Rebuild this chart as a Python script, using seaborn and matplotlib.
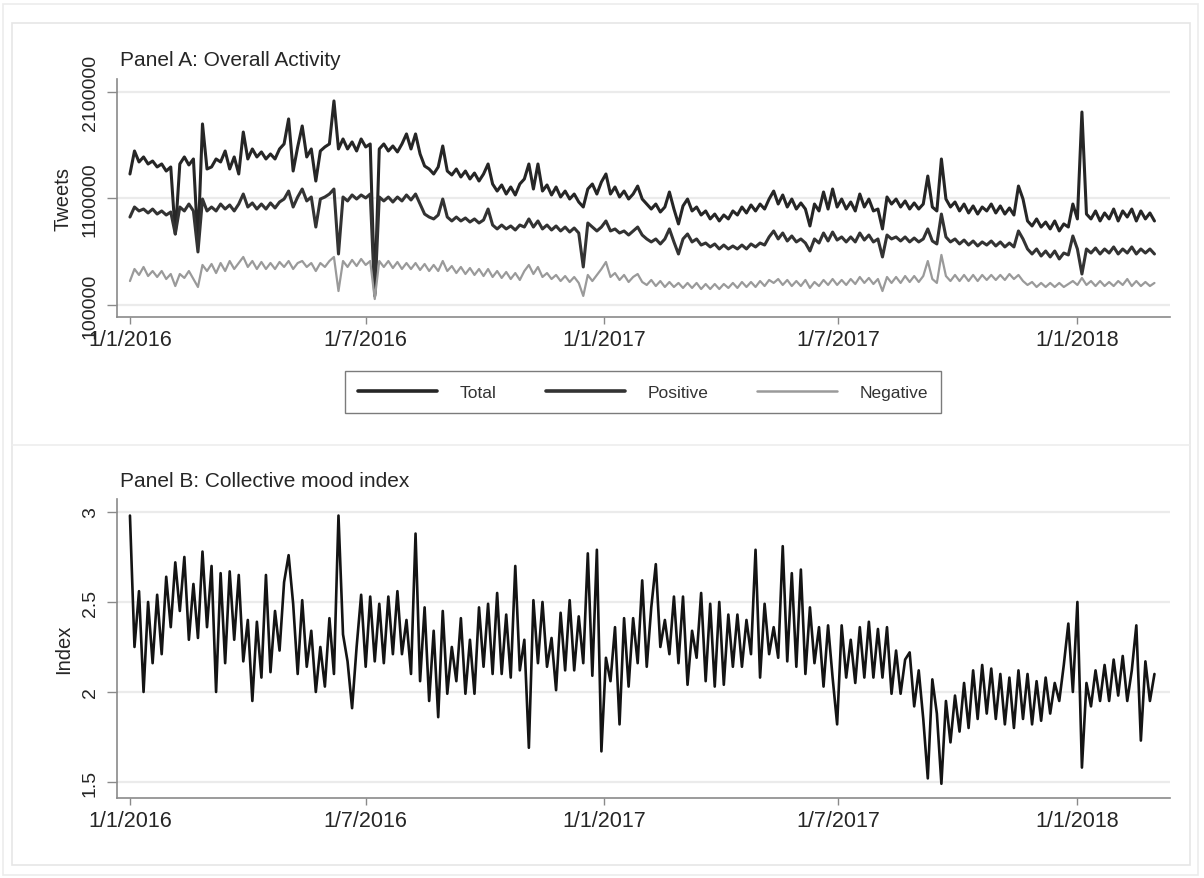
import numpy as np
import pandas as pd
import matplotlib
matplotlib.use("Agg")
import matplotlib.pyplot as plt
import matplotlib.dates as mdates
from matplotlib.patches import Rectangle
from matplotlib.lines import Line2D
import seaborn as sns

# ---------------- data (half-weekly readings, thousands of tweets) ----------------
series_names = ["Total", "Positive", "Negative"]

total_k = [
    1330, 1546, 1443, 1490, 1424, 1452, 1396, 1424, 1358, 1396,
    767, 1424, 1490, 1415, 1471, 673, 1800, 1377, 1396, 1471,
    1443, 1546, 1377, 1490, 1330, 1724, 1471, 1565, 1490, 1537,
    1471, 1518, 1471, 1565, 1612, 1847, 1358, 1584, 1781, 1490,
    1565, 1264, 1546, 1584, 1612, 2016, 1565, 1659, 1565, 1631,
    1546, 1659, 1584, 1612, 203, 1565, 1612, 1546, 1593, 1537,
    1612, 1706, 1565, 1706, 1518, 1405, 1377, 1330, 1396, 1593,
    1358, 1321, 1377, 1302, 1358, 1283, 1339, 1264, 1330, 1424,
    1236, 1170, 1227, 1142, 1208, 1133, 1236, 1283, 1424, 1189,
    1424, 1170, 1227, 1133, 1208, 1114, 1170, 1095, 1142, 1067,
    1020, 1189, 1236, 1142, 1255, 1330, 1142, 1208, 1114, 1170,
    1095, 1142, 1217, 1095, 1048, 1001, 1048, 973, 1020, 1161,
    1001, 861, 1030, 1095, 983, 1020, 945, 983, 908, 954,
    889, 945, 908, 983, 945, 1020, 964, 1039, 983, 1048,
    1001, 1095, 1170, 1048, 1133, 1020, 1095, 1001, 1058, 1001,
    842, 1048, 983, 1161, 1001, 1189, 1020, 1095, 1001, 1067,
    983, 1142, 1020, 1095, 983, 1001, 814, 1114, 1048, 1095,
    1020, 1077, 1001, 1058, 1001, 1048, 1311, 1020, 983, 1471,
    1095, 1020, 1067, 983, 1048, 964, 1030, 954, 1020, 983,
    1048, 964, 1030, 954, 1011, 945, 1217, 1095, 889, 842,
    908, 832, 879, 814, 889, 795, 861, 832, 1048, 908,
    1912, 954, 908, 983, 889, 964, 908, 1001, 889, 983,
    926, 1001, 889, 983, 908, 964, 889,
]

positive_k = [
    926, 1020, 983, 1001, 964, 1001, 954, 983, 945, 973,
    767, 1020, 983, 1048, 983, 598, 1095, 983, 1020, 983,
    1048, 1001, 1039, 983, 1048, 1142, 1020, 1058, 1001, 1048,
    1001, 1058, 1011, 1067, 1095, 1170, 1020, 1114, 1189, 1077,
    1114, 832, 1095, 1114, 1142, 1189, 579, 1114, 1077, 1133,
    1095, 1133, 1105, 1142, 185, 1114, 1077, 1114, 1067, 1114,
    1077, 1133, 1086, 1142, 1048, 954, 926, 908, 945, 1095,
    926, 889, 926, 889, 917, 879, 908, 870, 898, 1001,
    851, 814, 851, 814, 842, 804, 851, 832, 908, 832,
    889, 814, 851, 804, 842, 795, 832, 785, 823, 776,
    457, 870, 832, 795, 832, 889, 795, 814, 776, 795,
    757, 795, 832, 757, 720, 692, 720, 673, 720, 814,
    692, 579, 720, 767, 692, 720, 663, 682, 645, 673,
    626, 663, 626, 654, 626, 663, 626, 673, 645, 682,
    663, 739, 795, 720, 776, 701, 748, 692, 720, 682,
    607, 720, 682, 776, 701, 785, 710, 739, 692, 739,
    692, 776, 710, 757, 692, 720, 551, 757, 720, 739,
    701, 739, 692, 729, 692, 720, 814, 701, 673, 954,
    739, 692, 720, 673, 710, 663, 701, 654, 692, 663,
    701, 654, 692, 645, 682, 645, 795, 720, 626, 579,
    626, 560, 607, 551, 607, 532, 588, 570, 748, 626,
    391, 626, 588, 635, 579, 626, 588, 645, 579, 626,
    588, 645, 579, 626, 588, 626, 579,
]

negative_k = [
    325, 438, 382, 457, 372, 419, 363, 419, 344, 391,
    278, 391, 354, 419, 344, 269, 476, 419, 485, 400,
    494, 419, 513, 438, 494, 551, 457, 513, 438, 504,
    438, 494, 438, 504, 457, 513, 438, 494, 513, 457,
    494, 419, 494, 457, 513, 551, 231, 513, 457, 523,
    466, 532, 476, 513, 156, 513, 457, 513, 447, 504,
    438, 494, 438, 494, 429, 485, 419, 476, 419, 513,
    419, 466, 400, 457, 391, 447, 382, 438, 372, 438,
    363, 419, 354, 410, 344, 400, 335, 419, 476, 391,
    457, 363, 400, 344, 382, 325, 372, 316, 363, 307,
    185, 382, 325, 382, 438, 504, 363, 400, 335, 382,
    316, 363, 391, 316, 288, 335, 278, 325, 269, 316,
    269, 307, 260, 307, 260, 307, 250, 297, 250, 297,
    250, 297, 260, 307, 260, 316, 269, 316, 269, 325,
    278, 335, 307, 344, 288, 335, 278, 325, 278, 335,
    260, 316, 278, 335, 288, 344, 288, 335, 288, 344,
    297, 363, 307, 354, 297, 344, 231, 363, 307, 363,
    307, 372, 316, 372, 316, 372, 513, 344, 307, 570,
    372, 325, 382, 325, 382, 325, 382, 325, 382, 335,
    382, 335, 382, 335, 391, 344, 382, 325, 288, 316,
    269, 307, 269, 307, 269, 307, 269, 297, 325, 288,
    354, 288, 325, 278, 325, 278, 316, 278, 325, 288,
    344, 278, 325, 278, 316, 278, 307,
]

mood_index = [
    2.98, 2.25, 2.56, 2.00, 2.50, 2.16, 2.54, 2.21, 2.64, 2.36,
    2.72, 2.45, 2.75, 2.29, 2.60, 2.30, 2.78, 2.36, 2.70, 2.00,
    2.66, 2.16, 2.67, 2.29, 2.65, 2.17, 2.40, 1.95, 2.39, 2.08,
    2.65, 2.11, 2.45, 2.23, 2.61, 2.76, 2.49, 2.10, 2.51, 2.14,
    2.34, 2.00, 2.25, 2.03, 2.41, 2.10, 2.98, 2.32, 2.17, 1.91,
    2.25, 2.54, 2.14, 2.53, 2.17, 2.49, 2.16, 2.53, 2.21, 2.56,
    2.21, 2.40, 2.10, 2.88, 2.06, 2.47, 1.95, 2.34, 1.86, 2.45,
    1.99, 2.25, 2.06, 2.41, 1.99, 2.29, 1.99, 2.47, 2.14, 2.49,
    2.10, 2.55, 2.10, 2.43, 2.08, 2.70, 2.12, 2.29, 1.69, 2.51,
    2.16, 2.50, 2.14, 2.30, 2.01, 2.44, 2.12, 2.51, 2.12, 2.42,
    2.16, 2.77, 2.09, 2.79, 1.67, 2.19, 2.06, 2.36, 1.82, 2.41,
    2.03, 2.41, 2.16, 2.62, 2.14, 2.47, 2.71, 2.25, 2.40, 2.21,
    2.53, 2.16, 2.53, 2.04, 2.34, 2.19, 2.55, 2.06, 2.49, 2.03,
    2.50, 2.04, 2.43, 2.14, 2.43, 2.14, 2.40, 2.21, 2.79, 2.08,
    2.49, 2.21, 2.36, 2.19, 2.81, 2.17, 2.66, 2.14, 2.68, 2.10,
    2.47, 2.16, 2.36, 2.03, 2.37, 2.08, 1.82, 2.37, 2.08, 2.29,
    2.05, 2.36, 2.08, 2.39, 2.08, 2.35, 2.08, 2.36, 1.99, 2.23,
    1.99, 2.18, 2.22, 1.92, 2.12, 1.85, 1.52, 2.07, 1.88, 1.49,
    1.95, 1.72, 1.98, 1.78, 2.05, 1.80, 2.12, 1.85, 2.15, 1.88,
    2.13, 1.85, 2.10, 1.82, 2.08, 1.80, 2.12, 1.85, 2.10, 1.82,
    2.06, 1.84, 2.08, 1.88, 2.05, 1.95, 2.15, 2.38, 2.00, 2.50,
    1.58, 2.05, 1.92, 2.12, 1.95, 2.15, 1.95, 2.18, 1.98, 2.20,
    1.95, 2.12, 2.37, 1.73, 2.17, 1.95, 2.10,
]

tick_dates = ["2016-01-01", "2016-07-01", "2017-01-01", "2017-07-01", "2018-01-01"]
tick_labels = ["1/1/2016", "1/7/2016", "1/1/2017", "1/7/2017", "1/1/2018"]
tweet_ticks = [100000, 1100000, 2100000]
tweet_tick_labels = ["100000", "1100000", "2100000"]
index_ticks = [1.5, 2.0, 2.5, 3.0]
index_tick_labels = ["1.5", "2", "2.5", "3"]

# ---------------- style ----------------
sns.set_theme(style="white")
plt.rcParams["font.family"] = ["Liberation Sans", "DejaVu Sans"]
TXT = "#262626"
AX = "#8a8a8a"
GRID = "#ebebeb"

W, H = 1204, 879
fig = plt.figure(figsize=(W / 100, H / 100), dpi=100)
fig.patch.set_facecolor("white")

# faint graph-region frames (Stata style)
fig.patches.append(Rectangle((3 / W, 1 - 876 / H), 1195 / W, 871 / H, transform=fig.transFigure,
                             fill=False, edgecolor="#ececec", lw=1.2))
fig.patches.append(Rectangle((12 / W, 1 - 866 / H), 1178 / W, 842 / H, transform=fig.transFigure,
                             fill=False, edgecolor="#e6e6e6", lw=1.2))
fig.add_artist(Line2D([12 / W, 1190 / W], [1 - 446 / H, 1 - 446 / H], transform=fig.transFigure,
                      color="#ededed", lw=1.2))

n = min(len(total_k), len(positive_k), len(negative_k))
dates_a = pd.date_range("2016-01-01", periods=n, freq="84h")
dfA = pd.DataFrame({
    "date": np.tile(dates_a.values, 3),
    "series": np.repeat(series_names, n),
    "tweets": np.concatenate([np.array(total_k[:n]), np.array(positive_k[:n]),
                              np.array(negative_k[:n])]) * 1000,
})
dates_b = pd.date_range("2016-01-01", periods=len(mood_index), freq="84h")
dfB = pd.DataFrame({"date": dates_b, "index": mood_index})

xlo, xhi = pd.Timestamp("2015-12-22"), pd.Timestamp("2018-03-14")
tick_pos = mdates.date2num(pd.to_datetime(tick_dates).to_pydatetime())


def style_axis(ax):
    for s in ["top", "right"]:
        ax.spines[s].set_visible(False)
    for s in ["left", "bottom"]:
        ax.spines[s].set_color(AX)
        ax.spines[s].set_linewidth(1.2)
    ax.grid(axis="y", color=GRID, lw=1.6)
    ax.grid(axis="x", visible=False)
    ax.set_axisbelow(True)
    ax.set_xlim(xlo, xhi)
    ax.set_xticks(tick_pos)
    ax.set_xticklabels(tick_labels)
    ax.tick_params(axis="x", direction="out", length=5, width=1, color=AX, pad=4,
                   labelsize=15.5, labelcolor=TXT, bottom=True)
    ax.tick_params(axis="y", direction="out", length=7, width=1, color=AX, pad=6,
                   labelsize=14, labelcolor=TXT, left=True)
    ax.set_xlabel("")


# ---------------- Panel A ----------------
axA = fig.add_axes([117 / W, 1 - 318 / H, (1170 - 117) / W, (318 - 80) / H])
palette = {"Total": "#262626", "Positive": "#333333", "Negative": "#9a9a9a"}
widths = {"Total": 2.2, "Positive": 2.2, "Negative": 1.6}
for name in series_names:
    sub = dfA[dfA["series"] == name]
    sns.lineplot(data=sub, x="date", y="tweets", ax=axA, color=palette[name],
                 linewidth=widths[name], label=name, estimator=None)
handles, labels = axA.get_legend_handles_labels()
if axA.get_legend() is not None:
    axA.get_legend().remove()
axA.set_ylim(-12700, 2222000)
style_axis(axA)
axA.set_yticks(tweet_ticks)
axA.set_yticklabels(tweet_tick_labels, rotation=90, va="center")
axA.set_ylabel("Tweets", fontsize=14.5, color=TXT, va="center")
axA.yaxis.set_label_coords(-0.051, 0.5)

fig.text(120 / W, 1 - 60 / H, "Panel A: Overall Activity", fontsize=15, color=TXT,
         ha="left", va="center")

leg = fig.legend(handles, labels, loc="center", bbox_to_anchor=(643 / W, 1 - 393 / H),
                 ncol=3, frameon=True, fancybox=False, fontsize=12.5, handlelength=4.6,
                 handletextpad=1.3, columnspacing=2.8, borderpad=0.75)
leg.get_frame().set_edgecolor("#5a5a5a")
leg.get_frame().set_linewidth(1.0)
for t in leg.get_texts():
    t.set_color("#333333")
for lh, lab in zip(leg.get_lines(), labels):
    lh.set_linewidth(1.8 if lab == "Negative" else 2.6)

# ---------------- Panel B ----------------
axB = fig.add_axes([117 / W, 1 - 799 / H, (1170 - 117) / W, (799 - 500) / H])
sns.lineplot(data=dfB, x="date", y="index", ax=axB, color="#141414", linewidth=1.9,
             estimator=None)
axB.set_ylim(1.411, 3.072)
style_axis(axB)
axB.set_yticks(index_ticks)
axB.set_yticklabels(index_tick_labels, rotation=90, va="center")
axB.set_ylabel("Index", fontsize=14.5, color=TXT, va="center")
axB.yaxis.set_label_coords(-0.051, 0.5)

fig.text(120 / W, 1 - 482 / H, "Panel B: Collective mood index", fontsize=15, color=TXT,
         ha="left", va="center")

fig.savefig("out.png", dpi=100, facecolor="white")
